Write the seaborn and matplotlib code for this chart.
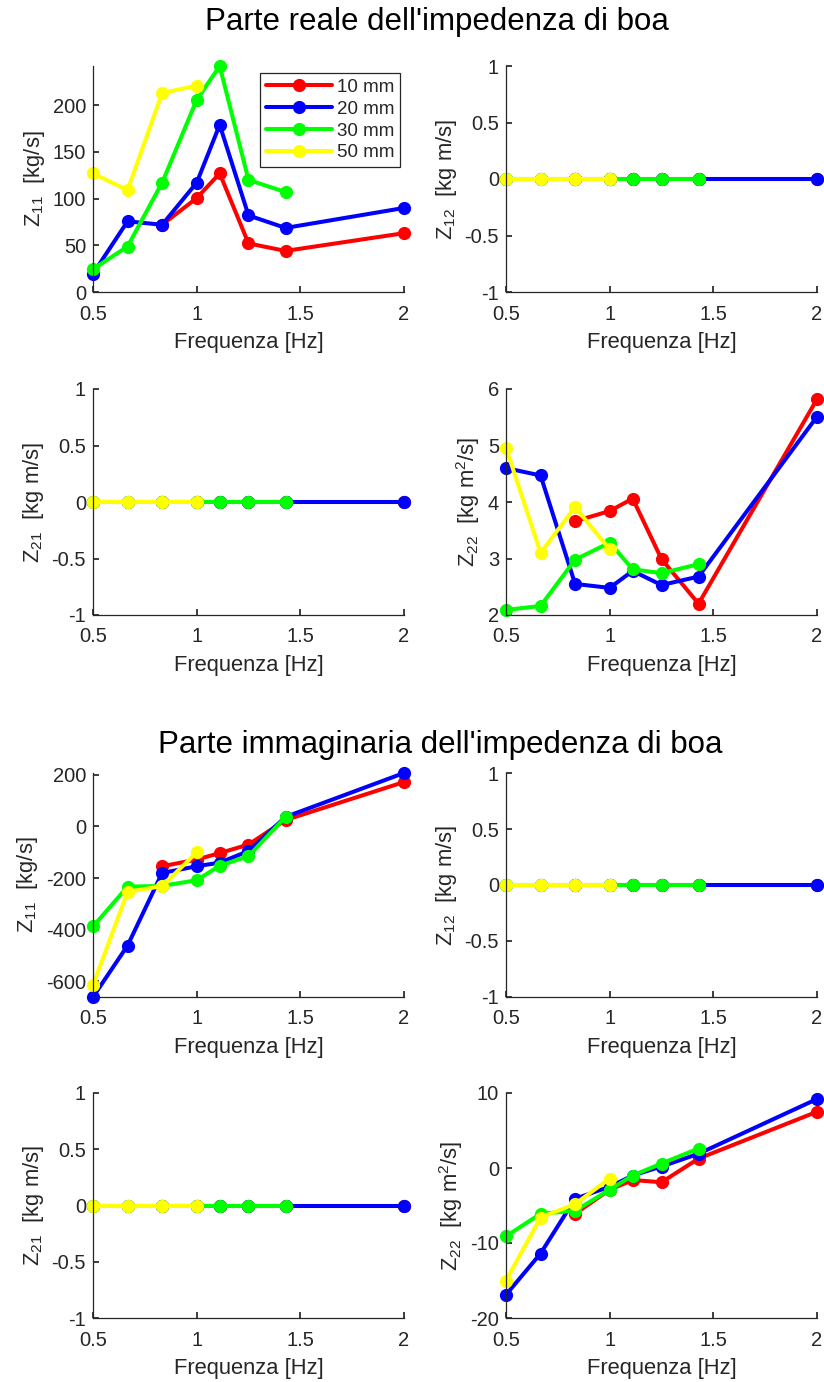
import numpy as np
import pandas as pd
import matplotlib
matplotlib.use("Agg")
import matplotlib.pyplot as plt
import seaborn as sns

nan = np.nan

# Test frequencies [Hz]
freq = [0.5, 0.6667, 0.8333, 1.0, 1.1111, 1.25, 1.4286, 2.0]
series = ["10 mm", "20 mm", "30 mm", "50 mm"]
colors = ["#ff0000", "#0000ff", "#00ff00", "#ffff00"]

# Real part, Z11 [kg/s]
re_z11_10 = [nan, nan, 72, 100.5, 127, 52, 44, 63]
re_z11_20 = [19.5, 75.7, 72, 117, 179, 82, 68.6, 90]
re_z11_30 = [24.5, 48.7, 117, 205.7, 242, 120, 107, nan]
re_z11_50 = [127, 109, 213, 221, nan, nan, nan, nan]

# Real part, Z22 [kg m^2/s]
re_z22_10 = [nan, nan, 3.66, 3.84, 4.06, 2.99, 2.2, 5.82]
re_z22_20 = [4.6, 4.47, 2.55, 2.48, 2.78, 2.53, 2.68, 5.51]
re_z22_30 = [2.09, 2.16, 2.98, 3.28, 2.81, 2.74, 2.9, nan]
re_z22_50 = [4.96, 3.1, 3.91, 3.16, nan, nan, nan, nan]

# Imaginary part, Z11 [kg/s]
im_z11_10 = [nan, nan, -154, -128, -103, -70, 25, 172]
im_z11_20 = [-660, -461, -180, -154, -140, -95, 37, 207]
im_z11_30 = [-387, -233, -230, -208, -152, -115, 37, nan]
im_z11_50 = [-614, -253, -231, -100, nan, nan, nan, nan]

# Imaginary part, Z22 [kg m^2/s]
im_z22_10 = [nan, nan, -6.1, -2.9, -1.6, -1.9, 1.25, 7.5]
im_z22_20 = [-16.9, -11.4, -4.1, -2.5, -1.0, 0.2, 1.9, 9.2]
im_z22_30 = [-9.1, -6.1, -5.7, -2.9, -1.0, 0.6, 2.6, nan]
im_z22_50 = [-15.0, -6.6, -4.8, -1.4, nan, nan, nan, nan]

# Cross terms Z12 / Z21 (identically zero)
cross_10 = [nan, nan, 0, 0, 0, 0, 0, 0]
cross_20 = [0, 0, 0, 0, 0, 0, 0, 0]
cross_30 = [0, 0, 0, 0, 0, 0, 0, nan]
cross_50 = [0, 0, 0, 0, nan, nan, nan, nan]

xticks = [0.5, 1, 1.5, 2]
xticklabels = ["0.5", "1", "1.5", "2"]


def long_frame(s10, s20, s30, s50):
    rows = []
    for name, vals in zip(series, [s10, s20, s30, s50]):
        for f, v in zip(freq, vals):
            if not np.isnan(v):
                rows.append({"f": f, "val": v, "serie": name})
    return pd.DataFrame(rows)


sns.set_theme(style="ticks")
plt.rcParams.update({
    "font.family": ["Liberation Sans", "DejaVu Sans"],
    "mathtext.default": "regular",
    "axes.edgecolor": "#262626",
    "axes.linewidth": 0.9,
    "xtick.color": "#262626",
    "ytick.color": "#262626",
    "xtick.labelcolor": "#262626",
    "ytick.labelcolor": "#262626",
    "xtick.direction": "in",
    "ytick.direction": "in",
    "xtick.major.size": 4,
    "ytick.major.size": 4,
    "xtick.labelsize": 14.5,
    "ytick.labelsize": 14.5,
    "axes.labelcolor": "#262626",
    "axes.labelsize": 15.8,
})

fig = plt.figure(figsize=(8.24, 13.82), dpi=100)
W, H = 824, 1382


def make_ax(x0, y_top, y_bot, w=311):
    return fig.add_axes([x0 / W, 1 - y_bot / H, w / W, (y_bot - y_top) / H])


panels = [
    # (left px, top px, bottom px, data, ylabel, ylim, yticks, legend)
    (93, 66, 292, long_frame(re_z11_10, re_z11_20, re_z11_30, re_z11_50),
     "Z$_{11}$  [kg/s]", (0, 242), [0, 50, 100, 150, 200], True),
    (506, 66, 292, long_frame(cross_10, cross_20, cross_30, cross_50),
     "Z$_{12}$  [kg m/s]", (-1, 1), [-1, -0.5, 0, 0.5, 1], False),
    (93, 389, 615, long_frame(cross_10, cross_20, cross_30, cross_50),
     "Z$_{21}$  [kg m/s]", (-1, 1), [-1, -0.5, 0, 0.5, 1], False),
    (506, 389, 615, long_frame(re_z22_10, re_z22_20, re_z22_30, re_z22_50),
     "Z$_{22}$  [kg m$^2$/s]", (2, 6), [2, 3, 4, 5, 6], False),
    (93, 773, 997, long_frame(im_z11_10, im_z11_20, im_z11_30, im_z11_50),
     "Z$_{11}$  [kg/s]", (-660, 207), [-600, -400, -200, 0, 200], False),
    (506, 773, 997, long_frame(cross_10, cross_20, cross_30, cross_50),
     "Z$_{12}$  [kg m/s]", (-1, 1), [-1, -0.5, 0, 0.5, 1], False),
    (93, 1093, 1318, long_frame(cross_10, cross_20, cross_30, cross_50),
     "Z$_{21}$  [kg m/s]", (-1, 1), [-1, -0.5, 0, 0.5, 1], False),
    (506, 1093, 1318, long_frame(im_z22_10, im_z22_20, im_z22_30, im_z22_50),
     "Z$_{22}$  [kg m$^2$/s]", (-20, 10), [-20, -10, 0, 10], False),
]

palette = dict(zip(series, colors))

for x0, yt, yb, df, ylab, ylim, yticks, show_leg in panels:
    ax = make_ax(x0, yt, yb)
    sns.lineplot(data=df, x="f", y="val", hue="serie", hue_order=series,
                 palette=palette, marker="o", markersize=9.5,
                 markeredgewidth=0, linewidth=2.9, ax=ax,
                 legend=show_leg, clip_on=False)
    ax.set_xlim(0.5, 2)
    ax.set_ylim(*ylim)
    ax.set_xticks(xticks)
    ax.set_xticklabels(xticklabels)
    ax.set_yticks(yticks)
    ax.set_yticklabels([f"{t:g}" for t in yticks])
    ax.tick_params(axis="x", pad=9)
    ax.tick_params(axis="y", pad=5)
    ax.set_xlabel("Frequenza [Hz]", labelpad=6)
    ax.set_ylabel(ylab, labelpad=4)
    sns.despine(ax=ax)
    if show_leg:
        handles, labels = ax.get_legend_handles_labels()
        leg = ax.legend(handles, labels, loc="upper right",
                        bbox_to_anchor=(1.0, 0.985), fontsize=13.5,
                        frameon=True, fancybox=False, edgecolor="#262626",
                        framealpha=1, handlelength=3.5, handletextpad=0.3,
                        labelspacing=0.25, borderpad=0.3, borderaxespad=0.2)
        leg.get_frame().set_linewidth(0.9)

fig.text(437 / W, 1 - 22 / H, "Parte reale dell'impedenza di boa",
         ha="center", va="center", fontsize=22.5, color="#000000")
fig.text(440 / W, 1 - 745 / H, "Parte immaginaria dell'impedenza di boa",
         ha="center", va="center", fontsize=22.5, color="#000000")

fig.savefig("out.png", dpi=100, facecolor="white")
